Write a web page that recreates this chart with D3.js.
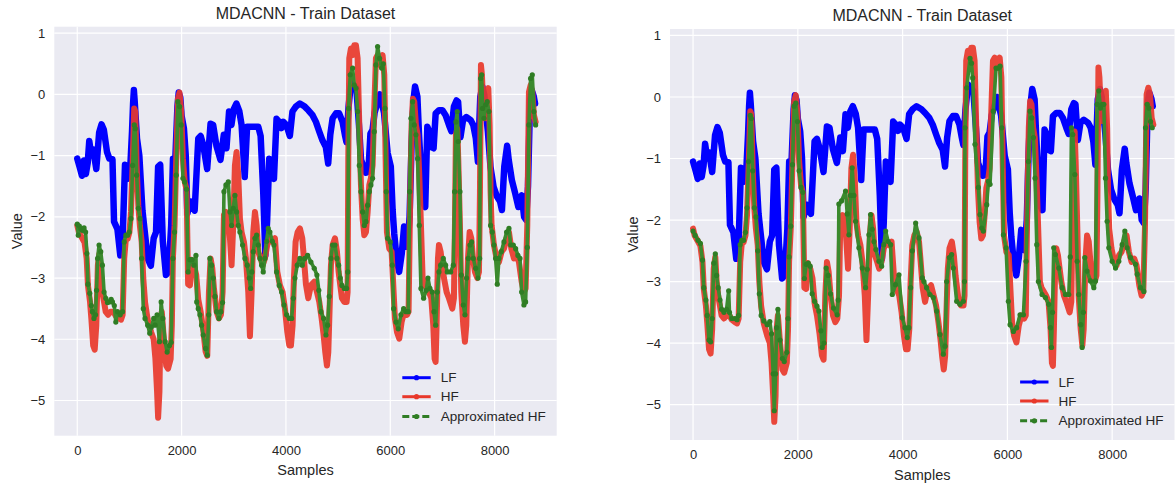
<!DOCTYPE html>
<html>
<head>
<meta charset="utf-8">
<script src="https://cdn.jsdelivr.net/npm/d3@7"></script>
<style>
  body { margin: 0; background: #ffffff; }
  svg { display: block; }
  text { font-family: "Liberation Sans", Arial, sans-serif; fill: #262626; }
</style>
</head>
<body>
<svg id="chart" width="1176" height="483"></svg>
<script>
// Axis ticks
const xTicks = [0, 2000, 4000, 6000, 8000];
const yTicks = [1, 0, -1, -2, -3, -4, -5];
const seriesNames = ["LF", "HF", "Approximated HF"];
const panelTitle = "MDACNN - Train Dataset";

// Low-fidelity response, [sample, value]
const lf = [[0,-1.05],[50,-1.2],[90,-1.33],[130,-1.08],[165,-1.3],[200,-1.12],[230,-0.76],[270,-1.0],[305,-0.9],[365,-1.22],[420,-0.62],[465,-0.49],[510,-0.58],[570,-0.94],[615,-1.05],[675,-1.06],[705,-2.08],[770,-2.2],[825,-2.63],[860,-2.62],[915,-1.15],[965,-1.38],[1010,-1.3],[1050,-0.6],[1070,-0.15],[1085,0.07],[1100,-0.1],[1145,-0.72],[1190,-1.0],[1250,-1.9],[1350,-2.68],[1410,-2.8],[1465,-2.35],[1510,-2.25],[1550,-1.18],[1590,-1.15],[1640,-2.4],[1700,-2.95],[1750,-2.9],[1800,-2.15],[1835,-1.05],[1875,-1.15],[1920,-0.2],[1945,0.03],[1975,-0.05],[2000,-0.35],[2045,-0.56],[2080,-1.0],[2110,-1.95],[2170,-1.75],[2250,-1.9],[2320,-0.72],[2365,-0.68],[2415,-0.83],[2490,-1.22],[2555,-0.48],[2605,-0.5],[2670,-0.85],[2745,-1.07],[2810,-0.66],[2860,-0.88],[2910,-0.28],[2955,-0.5],[3000,-0.24],[3050,-0.15],[3105,-0.27],[3150,-0.5],[3210,-1.35],[3255,-0.53],[3470,-0.53],[3515,-0.68],[3565,-1.6],[3605,-2.63],[3640,-2.05],[3680,-1.05],[3725,-1.2],[3770,-1.38],[3820,-0.4],[3870,-0.45],[3915,-0.55],[3950,-0.45],[4010,-0.5],[4075,-0.68],[4125,-0.28],[4190,-0.2],[4265,-0.15],[4360,-0.2],[4430,-0.26],[4510,-0.34],[4575,-0.45],[4640,-0.61],[4700,-0.75],[4765,-0.86],[4810,-1.13],[4850,-0.66],[4895,-0.39],[4960,-0.31],[5020,-0.31],[5085,-0.45],[5130,-0.66],[5160,-0.78],[5200,-0.2],[5250,0.2],[5350,0.1],[5400,-0.5],[5440,-1.07],[5530,-1.28],[5580,-1.26],[5620,-0.64],[5660,-0.58],[5700,-0.3],[5800,0.0],[5880,-0.3],[5950,-0.96],[6010,-1.18],[6045,-1.89],[6075,-2.27],[6125,-2.71],[6170,-2.9],[6220,-2.6],[6265,-2.16],[6300,-2.3],[6330,-2.49],[6370,-2.0],[6405,-0.91],[6445,-0.09],[6475,0.13],[6520,-0.04],[6550,-0.64],[6585,-1.18],[6635,-1.78],[6670,-1.84],[6710,-0.53],[6745,-0.6],[6785,-0.86],[6830,-0.88],[6870,-0.31],[6935,-0.26],[7000,-0.26],[7060,-0.34],[7125,-0.5],[7170,-0.6],[7220,-0.2],[7270,-0.1],[7300,-0.12],[7345,-0.7],[7395,-0.42],[7460,-0.37],[7540,-0.42],[7590,-0.5],[7640,-0.72],[7680,-1.1],[7725,-0.04],[7765,0.13],[7800,0.0],[7870,-0.6],[7920,-1.18],[7980,-1.51],[8045,-1.67],[8105,-1.75],[8140,-1.89],[8185,-1.18],[8240,-0.84],[8270,-1.07],[8330,-1.4],[8395,-1.62],[8455,-1.84],[8490,-1.75],[8520,-1.65],[8565,-2.0],[8605,-2.05],[8640,-1.5],[8680,-0.09],[8710,0.07],[8750,-0.03],[8775,-0.15]];

// High-fidelity response, [sample, value]
const hf = [[0,-2.14],[30,-2.25],[95,-2.35],[140,-2.42],[180,-2.68],[205,-3.12],[245,-3.39],[270,-3.66],[305,-4.1],[335,-4.17],[365,-3.77],[395,-2.79],[425,-2.6],[450,-3.0],[480,-3.23],[515,-3.4],[545,-3.55],[590,-3.6],[640,-3.55],[695,-3.55],[740,-3.62],[800,-3.66],[840,-3.68],[870,-3.6],[900,-2.68],[930,-2.38],[965,-2.36],[1000,-2.25],[1030,-1.92],[1060,-1.16],[1092,-0.23],[1112,-0.28],[1138,-1.16],[1170,-1.81],[1200,-2.14],[1235,-2.41],[1265,-3.0],[1300,-3.4],[1350,-3.68],[1415,-3.88],[1465,-4.0],[1498,-4.32],[1530,-4.86],[1550,-5.28],[1575,-4.86],[1595,-3.77],[1620,-3.55],[1660,-4.0],[1705,-4.43],[1740,-4.48],[1790,-4.32],[1813,-3.77],[1833,-2.68],[1865,-2.14],[1897,-1.05],[1930,-0.07],[1960,0.03],[1993,-0.28],[2025,-1.05],[2060,-1.43],[2095,-1.55],[2125,-3.1],[2160,-3.12],[2190,-2.7],[2240,-2.8],[2280,-2.95],[2320,-3.35],[2365,-3.55],[2415,-3.85],[2460,-4.2],[2492,-4.27],[2524,-3.23],[2556,-2.68],[2588,-2.84],[2620,-3.17],[2671,-3.55],[2716,-3.66],[2754,-3.6],[2786,-3.23],[2812,-1.97],[2850,-1.92],[2895,-1.95],[2927,-2.35],[2958,-2.79],[2990,-2.14],[3022,-1.16],[3054,-0.94],[3086,-1.32],[3118,-2.03],[3150,-2.25],[3195,-2.41],[3233,-2.68],[3278,-3.23],[3310,-3.95],[3342,-3.23],[3374,-2.25],[3406,-1.92],[3438,-2.14],[3470,-2.57],[3514,-2.68],[3553,-2.79],[3597,-2.68],[3642,-2.46],[3693,-2.35],[3744,-2.41],[3789,-2.35],[3834,-2.9],[3885,-3.12],[3936,-3.23],[3981,-3.5],[4026,-3.88],[4064,-4.1],[4096,-4.1],[4128,-3.77],[4153,-3.0],[4185,-2.41],[4224,-2.25],[4268,-2.19],[4313,-2.35],[4345,-2.68],[4383,-3.1],[4428,-3.33],[4479,-3.12],[4543,-3.06],[4594,-3.23],[4639,-3.39],[4684,-3.66],[4722,-3.93],[4754,-4.21],[4786,-4.43],[4812,-4.21],[4837,-3.5],[4863,-2.79],[4895,-2.46],[4940,-2.35],[4978,-2.57],[5010,-2.9],[5042,-3.12],[5073,-3.33],[5118,-3.39],[5163,-3.39],[5182,-3.23],[5195,-1.05],[5214,0.59],[5246,0.75],[5278,0.64],[5310,0.8],[5342,0.8],[5374,0.59],[5406,-0.5],[5438,-1.48],[5470,-2.03],[5502,-2.3],[5534,-2.25],[5566,-1.92],[5598,-1.48],[5629,-1.37],[5661,-1.16],[5693,-0.23],[5725,0.59],[5757,0.64],[5808,0.48],[5853,0.64],[5885,0.32],[5911,-1.05],[5936,-2.25],[5981,-2.52],[6026,-2.57],[6064,-3.23],[6089,-3.66],[6128,-3.88],[6173,-3.99],[6217,-3.72],[6268,-3.55],[6320,-3.6],[6351,-3.55],[6383,-1.59],[6409,-0.5],[6434,-0.07],[6460,-0.12],[6492,-0.5],[6524,-0.66],[6556,-1.32],[6588,-2.14],[6620,-3.0],[6652,-3.1],[6700,-3.17],[6741,-3.23],[6786,-3.33],[6824,-3.77],[6850,-4.32],[6869,-4.37],[6888,-3.77],[6914,-2.68],[6933,-2.46],[6965,-2.57],[6997,-2.79],[7029,-3.0],[7080,-3.23],[7125,-3.33],[7189,-3.5],[7220,-3.33],[7240,-2.14],[7258,-0.66],[7284,-0.56],[7303,-1.05],[7335,-2.14],[7361,-3.23],[7399,-3.77],[7431,-4.04],[7457,-3.77],[7489,-2.68],[7521,-2.25],[7553,-2.35],[7585,-2.68],[7623,-2.9],[7668,-3.0],[7700,-2.9],[7719,-1.59],[7738,0.48],[7757,0.32],[7783,-0.23],[7815,-0.39],[7847,0.04],[7879,0.1],[7904,-0.5],[7923,-1.59],[7943,-2.14],[7987,-2.46],[8038,-2.68],[8083,-2.74],[8134,-2.57],[8179,-2.52],[8230,-2.35],[8275,-2.25],[8320,-2.52],[8371,-2.68],[8422,-2.63],[8466,-2.74],[8518,-3.06],[8562,-3.23],[8594,-3.17],[8626,-2.14],[8658,0.04],[8690,0.15],[8722,0.04],[8754,-0.34],[8786,-0.45]];

// Model prediction of HF, first run, [sample, value]
const approxLeft = [[0,-2.12],[20,-2.3],[40,-2.15],[70,-2.2],[100,-2.22],[130,-2.18],[160,-2.25],[185,-2.6],[205,-3.1],[240,-3.25],[270,-3.45],[290,-3.55],[320,-3.66],[350,-3.6],[370,-3.2],[390,-2.68],[418,-2.46],[450,-2.57],[482,-2.79],[514,-3.23],[547,-3.33],[580,-3.4],[611,-3.39],[650,-3.35],[675,-3.39],[710,-3.45],[739,-3.72],[771,-3.55],[823,-3.6],[868,-3.55],[900,-2.41],[932,-2.3],[965,-2.3],[997,-2.25],[1029,-2.03],[1061,-1.16],[1093,-0.5],[1112,-0.56],[1138,-1.32],[1170,-1.86],[1202,-2.03],[1234,-2.68],[1266,-3.5],[1299,-3.66],[1350,-3.77],[1390,-3.9],[1420,-3.8],[1466,-3.66],[1492,-3.77],[1530,-3.6],[1575,-4.04],[1608,-3.39],[1640,-3.66],[1685,-4.04],[1723,-4.21],[1768,-4.1],[1800,-4.05],[1833,-2.68],[1865,-2.25],[1897,-1.32],[1929,-0.12],[1961,-0.2],[1993,-0.5],[2026,-1.37],[2058,-1.43],[2095,-1.55],[2125,-2.9],[2160,-2.7],[2200,-2.7],[2236,-2.79],[2275,-2.63],[2290,-3.39],[2319,-3.5],[2351,-3.6],[2383,-3.77],[2415,-3.93],[2460,-4.15],[2492,-4.26],[2520,-3.6],[2543,-2.68],[2575,-2.79],[2607,-3.0],[2640,-3.3],[2671,-3.55],[2716,-3.66],[2754,-3.55],[2785,-3.4],[2812,-1.59],[2850,-1.48],[2895,-1.43],[2927,-1.92],[2958,-2.14],[2990,-1.86],[3022,-1.65],[3054,-1.92],[3086,-2.14],[3118,-2.25],[3169,-2.46],[3214,-2.68],[3259,-2.79],[3297,-3.0],[3323,-3.17],[3348,-2.9],[3374,-2.57],[3406,-2.35],[3438,-2.3],[3470,-2.46],[3502,-2.68],[3534,-2.79],[3565,-2.9],[3597,-2.68],[3630,-2.4],[3661,-2.19],[3693,-2.25],[3740,-2.4],[3770,-2.46],[3821,-2.9],[3872,-3.12],[3917,-3.23],[3962,-3.44],[4013,-3.6],[4064,-3.66],[4109,-3.66],[4141,-3.33],[4173,-3.0],[4217,-2.79],[4268,-2.68],[4313,-2.79],[4360,-2.68],[4415,-2.63],[4479,-2.74],[4543,-2.84],[4594,-2.95],[4630,-3.2],[4671,-3.55],[4722,-3.66],[4767,-3.93],[4799,-3.77],[4830,-3.3],[4863,-2.68],[4895,-2.46],[4940,-2.46],[4978,-2.68],[5010,-2.79],[5042,-3.0],[5073,-3.12],[5118,-3.17],[5163,-3.17],[5185,-2.9],[5201,-0.23],[5233,0.32],[5278,0.43],[5310,0.15],[5342,0.1],[5374,-0.28],[5406,-1.16],[5438,-1.59],[5470,-1.92],[5502,-2.14],[5534,-2.08],[5566,-1.81],[5598,-1.59],[5629,-1.48],[5661,-1.37],[5693,-0.61],[5725,0.48],[5757,0.78],[5795,0.59],[5834,0.43],[5865,0.5],[5898,-0.23],[5923,-1.59],[5949,-2.35],[6000,-2.41],[6038,-2.79],[6064,-3.5],[6109,-3.72],[6153,-3.83],[6204,-3.6],[6256,-3.5],[6300,-3.55],[6345,-3.55],[6371,-1.59],[6396,-0.39],[6428,-0.12],[6460,-0.5],[6492,-0.66],[6524,-1.05],[6556,-2.14],[6588,-3.17],[6639,-3.33],[6690,-3.2],[6722,-3.0],[6760,-3.17],[6805,-3.23],[6837,-3.55],[6869,-3.77],[6901,-3.23],[6933,-2.9],[6965,-2.79],[7016,-2.68],[7061,-2.79],[7093,-2.9],[7157,-2.9],[7208,-2.79],[7233,-1.59],[7258,-0.45],[7284,-0.28],[7303,-0.77],[7335,-1.59],[7361,-2.95],[7399,-3.44],[7431,-3.6],[7463,-3.0],[7495,-2.68],[7527,-2.46],[7559,-2.41],[7591,-2.68],[7636,-2.84],[7681,-3.0],[7713,-2.68],[7732,0.26],[7751,0.32],[7770,-0.23],[7796,-0.39],[7828,-0.17],[7859,-0.12],[7891,-0.28],[7923,-2.14],[7955,-2.25],[7987,-2.46],[8019,-2.68],[8051,-3.1],[8083,-2.68],[8128,-2.57],[8179,-2.41],[8230,-2.25],[8275,-2.19],[8307,-2.46],[8358,-2.46],[8403,-2.52],[8447,-2.63],[8486,-2.68],[8518,-3.23],[8562,-3.44],[8594,-3.39],[8626,-2.5],[8658,-0.5],[8690,0.26],[8722,0.32],[8754,-0.28],[8786,-0.5]];

// Model prediction of HF, second run, [sample, value]
const approxRight = [[0,-2.18],[40,-2.25],[95,-2.33],[140,-2.38],[180,-2.65],[205,-3.1],[245,-3.3],[270,-3.55],[305,-3.95],[335,-3.98],[365,-3.6],[395,-2.7],[425,-2.55],[450,-2.9],[480,-3.1],[515,-3.3],[545,-3.45],[590,-3.5],[640,-3.45],[680,-3.15],[695,-3.5],[740,-3.6],[800,-3.6],[840,-3.62],[870,-3.55],[900,-2.4],[930,-2.33],[965,-2.33],[1000,-2.2],[1030,-1.8],[1060,-1.05],[1092,-0.3],[1112,-0.35],[1138,-1.2],[1170,-1.8],[1200,-1.95],[1235,-2.5],[1265,-3.2],[1300,-3.55],[1350,-3.64],[1415,-3.7],[1465,-3.65],[1498,-3.85],[1530,-4.5],[1550,-5.1],[1575,-4.5],[1595,-3.75],[1620,-3.45],[1660,-3.95],[1705,-4.25],[1740,-4.3],[1790,-4.15],[1813,-3.6],[1833,-2.6],[1865,-2.1],[1897,-1.1],[1930,-0.15],[1960,-0.1],[1993,-0.4],[2025,-1.2],[2060,-1.47],[2095,-1.55],[2125,-2.95],[2160,-2.72],[2200,-2.7],[2236,-2.75],[2274,-3.2],[2320,-3.32],[2365,-3.4],[2401,-3.48],[2440,-3.8],[2465,-4.07],[2500,-4.0],[2541,-2.78],[2580,-2.9],[2624,-3.2],[2680,-3.43],[2751,-3.54],[2770,-3.3],[2783,-1.74],[2834,-1.69],[2911,-1.53],[2943,-1.9],[2975,-2.24],[3005,-1.6],[3038,-1.15],[3070,-1.6],[3102,-2.02],[3166,-2.45],[3230,-2.78],[3293,-3.1],[3325,-2.8],[3357,-2.24],[3389,-1.91],[3421,-2.15],[3453,-2.35],[3490,-2.48],[3548,-2.67],[3600,-2.75],[3640,-2.4],[3676,-2.18],[3725,-2.35],[3771,-2.4],[3803,-3.21],[3865,-3.05],[3930,-2.89],[3994,-3.59],[4045,-3.75],[4089,-3.91],[4120,-3.75],[4153,-3.1],[4185,-2.5],[4249,-2.05],[4313,-2.29],[4376,-2.94],[4407,-3.0],[4458,-3.1],[4522,-3.21],[4586,-3.26],[4650,-3.48],[4714,-3.86],[4777,-4.18],[4810,-4.05],[4841,-3.0],[4892,-2.61],[4936,-2.56],[4968,-2.78],[5032,-3.32],[5096,-3.37],[5159,-3.32],[5180,-3.0],[5191,-0.5],[5223,0.15],[5287,0.63],[5315,0.55],[5338,0.31],[5382,-0.77],[5446,-1.47],[5478,-1.91],[5510,-2.13],[5541,-2.18],[5605,-1.75],[5637,-1.37],[5669,-1.42],[5732,-0.23],[5783,0.47],[5828,0.47],[5860,0.5],[5892,-0.5],[5924,-2.24],[5975,-2.45],[6019,-3.32],[6051,-3.7],[6115,-3.81],[6178,-3.75],[6242,-3.54],[6306,-3.54],[6357,-2.67],[6401,-1.05],[6433,-0.23],[6465,-0.34],[6497,-0.66],[6529,-1.32],[6561,-2.4],[6592,-3.0],[6662,-3.21],[6726,-3.26],[6790,-3.37],[6822,-3.75],[6841,-4.07],[6862,-3.5],[6885,-2.45],[6917,-2.56],[6981,-2.78],[7045,-3.1],[7108,-3.21],[7172,-3.21],[7200,-2.6],[7223,-0.5],[7248,-0.61],[7287,-1.26],[7331,-2.67],[7363,-3.21],[7400,-3.7],[7427,-4.07],[7450,-3.5],[7478,-2.61],[7522,-2.83],[7586,-2.99],[7650,-3.1],[7682,-2.99],[7713,-0.12],[7745,0.1],[7777,-0.18],[7809,-0.12],[7841,-0.12],[7873,-1.32],[7904,-2.02],[7936,-2.45],[8000,-2.67],[8064,-2.78],[8127,-2.67],[8191,-2.4],[8242,-2.18],[8287,-2.45],[8350,-2.61],[8446,-2.72],[8478,-2.88],[8541,-3.1],[8605,-3.16],[8637,-0.5],[8669,-0.12],[8701,-0.18],[8733,-0.4],[8765,-0.5]];

const colors = { lf: "#0000ff", hf: "#e8382b", approx: "#2f7d24" };
const xDomain = [-440, 9190];
const yDomain = [-5.575, 1.105];

const svg = d3.select("#chart");

function drawPanel(box, approx, key) {
  const x = d3.scaleLinear().domain(xDomain).range([box.left, box.right]);
  const y = d3.scaleLinear().domain(yDomain).range([box.bottom, box.top]);
  const g = svg.append("g");

  // axes background
  g.append("rect")
    .attr("x", box.left).attr("y", box.top)
    .attr("width", box.right - box.left).attr("height", box.bottom - box.top)
    .attr("fill", "#eaeaf2");

  // grid
  g.append("g").selectAll("line").data(yTicks).join("line")
    .attr("x1", box.left).attr("x2", box.right)
    .attr("y1", d => y(d)).attr("y2", d => y(d))
    .attr("stroke", "#ffffff").attr("stroke-width", 1.2);
  g.append("g").selectAll("line").data(xTicks).join("line")
    .attr("y1", box.top).attr("y2", box.bottom)
    .attr("x1", d => x(d)).attr("x2", d => x(d))
    .attr("stroke", "#ffffff").attr("stroke-width", 1.2);

  // tick labels via d3 axes, with domain and tick marks hidden
  const xAxis = g.append("g")
    .attr("transform", `translate(0,${box.bottom})`)
    .call(d3.axisBottom(x).tickValues(xTicks).tickSize(0).tickPadding(10).tickFormat(d3.format("d")));
  const yAxis = g.append("g")
    .attr("transform", `translate(${box.left},0)`)
    .call(d3.axisLeft(y).tickValues(yTicks).tickSize(0).tickPadding(9)
      .tickFormat(d => d < 0 ? "\u2212" + Math.abs(d) : String(d)));
  [xAxis, yAxis].forEach(a => {
    a.select(".domain").remove();
    a.selectAll("text")
      .attr("font-size", 13)
      .attr("font-family", "'Liberation Sans', Arial, sans-serif")
      .attr("fill", "#262626");
  });

  // titles
  const cx = (box.left + box.right) / 2;
  const cy = (box.top + box.bottom) / 2;
  g.append("text").attr("x", cx).attr("y", box.top - 7.6)
    .attr("text-anchor", "middle").attr("font-size", 16).text(panelTitle);
  g.append("text").attr("x", cx).attr("y", box.bottom + 39.5)
    .attr("text-anchor", "middle").attr("font-size", 14.5).text("Samples");
  g.append("text")
    .attr("transform", `translate(${box.left - 32.5},${cy}) rotate(-90)`)
    .attr("text-anchor", "middle").attr("font-size", 14.5).text("Value");

  // data
  const clipId = "clip-" + key;
  g.append("clipPath").attr("id", clipId).append("rect")
    .attr("x", box.left).attr("y", box.top)
    .attr("width", box.right - box.left).attr("height", box.bottom - box.top);
  const plot = g.append("g").attr("clip-path", `url(#${clipId})`);
  const line = d3.line().x(d => x(d[0])).y(d => y(d[1]));

  plot.append("path").attr("d", line(lf))
    .attr("fill", "none").attr("stroke", colors.lf)
    .attr("stroke-width", 6.5).attr("stroke-linejoin", "round").attr("stroke-linecap", "round");

  plot.append("path").attr("d", line(hf))
    .attr("fill", "none").attr("stroke", colors.hf).attr("stroke-opacity", 0.92)
    .attr("stroke-width", 6).attr("stroke-linejoin", "round").attr("stroke-linecap", "round");

  plot.append("path").attr("d", line(approx))
    .attr("fill", "none").attr("stroke", "#3b8a2e")
    .attr("stroke-width", 3.6).attr("stroke-linejoin", "round").attr("stroke-linecap", "round");
  plot.append("g").selectAll("circle").data(approx).join("circle")
    .attr("cx", d => x(d[0])).attr("cy", d => y(d[1])).attr("r", 2.6)
    .attr("fill", colors.approx);

  // legend
  const lx0 = box.right - 154.4, lx1 = box.right - 126;
  const lmid = (lx0 + lx1) / 2;
  const rows = [
    { name: seriesNames[0], color: colors.lf, dash: null, dy: -58 },
    { name: seriesNames[1], color: colors.hf, dash: null, dy: -39 },
    { name: seriesNames[2], color: colors.approx, dash: "7,3", dy: -19.2 }
  ];
  const leg = g.append("g");
  rows.forEach(r => {
    const ly = box.bottom + r.dy;
    leg.append("line")
      .attr("x1", lx0).attr("x2", lx1).attr("y1", ly).attr("y2", ly)
      .attr("stroke", r.color).attr("stroke-width", 3)
      .attr("stroke-dasharray", r.dash);
    leg.append("circle").attr("cx", lmid).attr("cy", ly).attr("r", 2.6).attr("fill", r.color);
    leg.append("text").attr("x", box.right - 116).attr("y", ly + 4.6)
      .attr("font-size", 13.5).text(r.name);
  });
}

drawPanel({ left: 54.3, right: 556.7, top: 26.7, bottom: 435.7 }, approxLeft, "a");
drawPanel({ left: 670, right: 1174.5, top: 29, bottom: 440 }, approxRight, "b");
</script>
</body>
</html>
